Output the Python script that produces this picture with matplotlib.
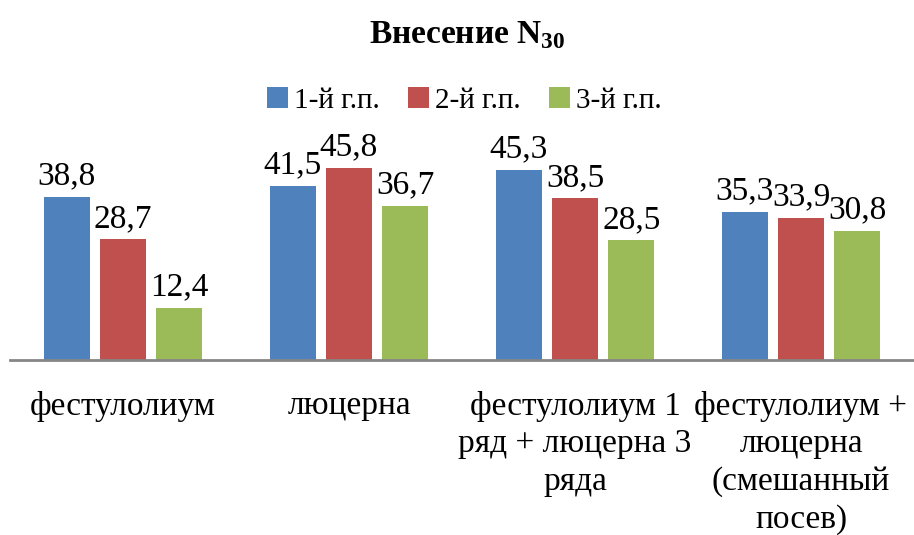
import matplotlib.pyplot as plt
import numpy as np

plt.rcParams['font.family'] = 'serif'
plt.rcParams['font.serif'] = ['Liberation Serif', 'DejaVu Serif']
plt.rcParams['mathtext.fontset'] = 'custom'
plt.rcParams['mathtext.rm'] = 'Liberation Serif'
plt.rcParams['mathtext.bf'] = 'Liberation Serif:bold'

# Data
categories = ['фестулолиум', 'люцерна', 'фестулолиум 1\nряд + люцерна 3\nряда',
              'фестулолиум +\nлюцерна\n(смешанный\nпосев)']
series_names = ['1-й г.п.', '2-й г.п.', '3-й г.п.']
year1 = [38.8, 41.5, 45.3, 35.3]
year2 = [28.7, 45.8, 38.5, 33.9]
year3 = [12.4, 36.7, 28.5, 30.8]
colors = ['#4F81BD', '#C0504D', '#9BBB59']

fig = plt.figure(figsize=(9.14, 5.35), dpi=100)
ax = fig.add_axes([10 / 914, 175 / 535, 904 / 914, 210 / 535])

x = np.arange(len(categories))
width = 0.203
step = 0.249
for i, (vals, name, c) in enumerate(zip([year1, year2, year3], series_names, colors)):
    pos = x + (i - 1) * step
    bars = ax.bar(pos, vals, width, color=c, label=name, zorder=2)
    for b, v in zip(bars, vals):
        ax.text(b.get_x() + b.get_width() / 2, v + 1.3, f'{v:.1f}'.replace('.', ','),
                ha='center', va='bottom', fontsize=24)

ax.set_xlim(-0.5, len(categories) - 0.5)
ax.set_ylim(0, 50)
ax.set_yticks([])
for s in ['top', 'right', 'left']:
    ax.spines[s].set_visible(False)
ax.spines['bottom'].set_color('#868686')
ax.spines['bottom'].set_linewidth(2)
ax.set_xticks(x)
ax.set_xticklabels(categories, fontsize=24, linespacing=1.3)
ax.tick_params(axis='x', length=0, pad=22)

fig.text(0.511, 0.935, r'Внесение N$_{\mathbf{30}}$', ha='center', va='center',
         fontsize=24, fontweight='bold')

fig.legend(loc='center', bbox_to_anchor=(0.508, 0.812), ncol=3, frameon=False,
           fontsize=21, handlelength=0.7, handleheight=0.7, handletextpad=0.2,
           columnspacing=1.0)

fig.savefig('out.png', dpi=100)
